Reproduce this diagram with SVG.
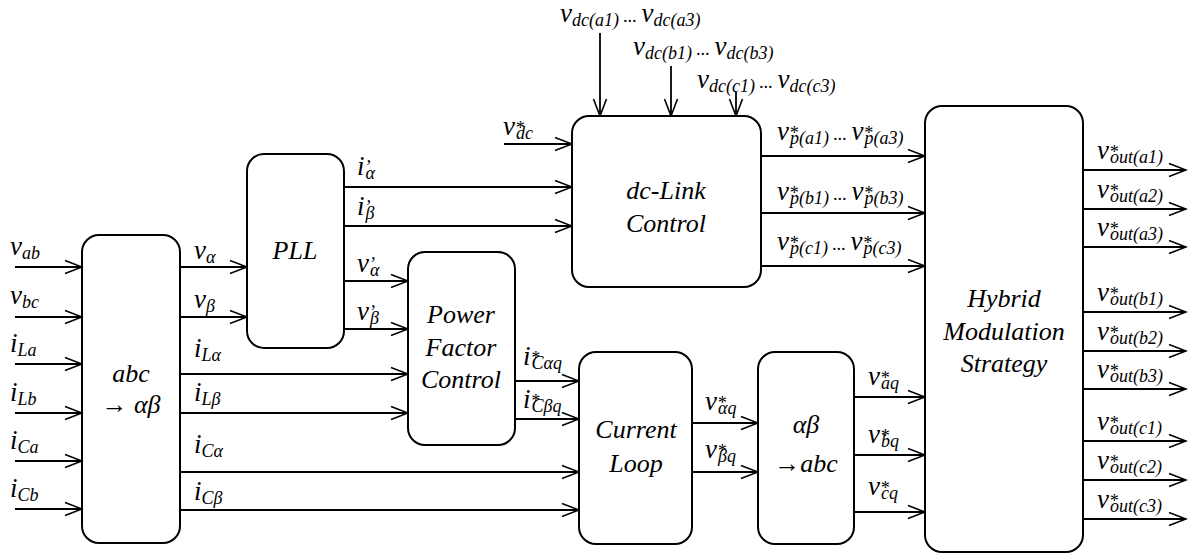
<svg xmlns="http://www.w3.org/2000/svg" width="1194" height="554" viewBox="0 0 1194 554" font-family="'Liberation Serif','Times New Roman',Tinos,'Noto Serif','DejaVu Serif','Nimbus Roman',FreeSerif,serif">
<style>
.bx{fill:#fff;stroke:#000;stroke-width:2}
.c{fill:none;stroke:#000;stroke-width:1.8;marker-end:url(#ah)}
.t{font-family:"Liberation Serif","Times New Roman",Tinos,"Noto Serif","DejaVu Serif","Nimbus Roman",FreeSerif,serif;font-style:italic;fill:#000}
.L{font-size:27px}
.s{font-size:18px}
.b{font-size:26px;text-anchor:middle}
</style>
<defs>
<marker id="ah" markerUnits="userSpaceOnUse" markerWidth="20" markerHeight="16" refX="18" refY="8" orient="auto">
<path d="M1,1.5 L18,8 L1,14.5" fill="none" stroke="#000" stroke-width="1.6"/>
</marker>
</defs>
<rect width="1194" height="554" fill="#fff"/>

<g id="connectors">
<line class="c" x1="15" y1="267" x2="82" y2="267"/>
<line class="c" x1="15" y1="317" x2="82" y2="317"/>
<line class="c" x1="15" y1="364" x2="82" y2="364"/>
<line class="c" x1="15" y1="413" x2="82" y2="413"/>
<line class="c" x1="15" y1="461" x2="82" y2="461"/>
<line class="c" x1="15" y1="509" x2="82" y2="509"/>
<line class="c" x1="180" y1="267" x2="247" y2="267"/>
<line class="c" x1="180" y1="317" x2="247" y2="317"/>
<line class="c" x1="180" y1="374" x2="408" y2="374"/>
<line class="c" x1="180" y1="413" x2="408" y2="413"/>
<line class="c" x1="180" y1="472" x2="579" y2="472"/>
<line class="c" x1="180" y1="510" x2="579" y2="510"/>
<line class="c" x1="344" y1="187" x2="572" y2="187"/>
<line class="c" x1="344" y1="226" x2="572" y2="226"/>
<line class="c" x1="344" y1="281" x2="408" y2="281"/>
<line class="c" x1="344" y1="329" x2="408" y2="329"/>
<line class="c" x1="504" y1="144" x2="572" y2="144"/>
<line class="c" x1="600" y1="33" x2="600" y2="116"/>
<line class="c" x1="671" y1="66" x2="671" y2="116"/>
<line class="c" x1="736" y1="92" x2="736" y2="116"/>
<line class="c" x1="761" y1="156" x2="925" y2="156"/>
<line class="c" x1="761" y1="213" x2="925" y2="213"/>
<line class="c" x1="761" y1="266" x2="925" y2="266"/>
<line class="c" x1="515" y1="381" x2="579" y2="381"/>
<line class="c" x1="515" y1="419" x2="579" y2="419"/>
<line class="c" x1="692" y1="423" x2="758" y2="423"/>
<line class="c" x1="692" y1="472" x2="758" y2="472"/>
<line class="c" x1="854" y1="397" x2="925" y2="397"/>
<line class="c" x1="854" y1="455" x2="925" y2="455"/>
<line class="c" x1="854" y1="512" x2="925" y2="512"/>
<line class="c" x1="1083" y1="170" x2="1186" y2="170"/>
<line class="c" x1="1083" y1="209" x2="1186" y2="209"/>
<line class="c" x1="1083" y1="247" x2="1186" y2="247"/>
<line class="c" x1="1083" y1="312" x2="1186" y2="312"/>
<line class="c" x1="1083" y1="351" x2="1186" y2="351"/>
<line class="c" x1="1083" y1="389" x2="1186" y2="389"/>
<line class="c" x1="1083" y1="441" x2="1186" y2="441"/>
<line class="c" x1="1083" y1="480" x2="1186" y2="480"/>
<line class="c" x1="1083" y1="519" x2="1186" y2="519"/>
</g>

<g id="abc2ab">
<rect class="bx" x="82" y="235" width="98" height="308" rx="17"/>
<text class="t b" x="131" y="382">abc</text>
<text class="t b" x="131" y="413">→ αβ</text>
</g>
<g id="pll">
<rect class="bx" x="247" y="154" width="97" height="194" rx="17"/>
<text class="t b" x="295" y="259">PLL</text>
</g>
<g id="pfc">
<rect class="bx" x="408" y="252" width="107" height="193" rx="17"/>
<text class="t b" x="461" y="323">Power</text>
<text class="t b" x="461" y="356">Factor</text>
<text class="t b" x="461" y="388">Control</text>
</g>
<g id="dclink">
<rect class="bx" x="572" y="116" width="189" height="171" rx="17"/>
<text class="t b" x="666" y="199">dc-Link</text>
<text class="t b" x="666" y="232">Control</text>
</g>
<g id="current">
<rect class="bx" x="579" y="352" width="113" height="192" rx="17"/>
<text class="t b" x="636" y="438">Current</text>
<text class="t b" x="636" y="472">Loop</text>
</g>
<g id="ab2abc">
<rect class="bx" x="758" y="352" width="96" height="192" rx="17"/>
<text class="t b" x="806" y="433">αβ</text>
<text class="t b" x="806" y="472">→abc</text>
</g>
<g id="hybrid">
<rect class="bx" x="925" y="106" width="158" height="446" rx="17"/>
<text class="t b" x="1004" y="307">Hybrid</text>
<text class="t b" x="1004" y="340">Modulation</text>
<text class="t b" x="1004" y="372">Strategy</text>
</g>

<g id="labels" class="t">
<text class="t L" x="10" y="255">v<tspan class="s" dy="4">ab</tspan></text>
<text class="t L" x="10" y="304">v<tspan class="s" dy="4">bc</tspan></text>
<text class="t L" x="10" y="352">i<tspan class="s" dy="4">La</tspan></text>
<text class="t L" x="10" y="401">i<tspan class="s" dy="4">Lb</tspan></text>
<text class="t L" x="10" y="449">i<tspan class="s" dy="4">Ca</tspan></text>
<text class="t L" x="10" y="497">i<tspan class="s" dy="4">Cb</tspan></text>
<text class="t L" x="194" y="259">v<tspan class="s" dy="4">α</tspan></text>
<text class="t L" x="194" y="308">v<tspan class="s" dy="4">β</tspan></text>
<text class="t L" x="194" y="357">i<tspan class="s" dy="4">Lα</tspan></text>
<text class="t L" x="194" y="401">i<tspan class="s" dy="4">Lβ</tspan></text>
<text class="t L" x="194" y="453">i<tspan class="s" dy="4">Cα</tspan></text>
<text class="t L" x="194" y="500">i<tspan class="s" dy="4">Cβ</tspan></text>
<text class="t L" x="357" y="175">i<tspan class="s" dy="-2">’</tspan><tspan class="s" dx="-5" dy="6">α</tspan></text>
<text class="t L" x="357" y="215">i<tspan class="s" dy="-2">’</tspan><tspan class="s" dx="-5" dy="6">β</tspan></text>
<text class="t L" x="357" y="272">v<tspan class="s" dy="-2">’</tspan><tspan class="s" dx="-5" dy="6">α</tspan></text>
<text class="t L" x="357" y="320">v<tspan class="s" dy="-2">’</tspan><tspan class="s" dx="-5" dy="6">β</tspan></text>
<text class="t L" x="503" y="135">v<tspan class="s" dy="-1">*</tspan><tspan class="s" dx="-8" dy="5">dc</tspan></text>
<text class="t L" x="560" y="22">v<tspan class="s" dy="4">dc(a1)</tspan><tspan class="s" dy="-4"> ... </tspan><tspan dy="0">v</tspan><tspan class="s" dy="4">dc(a3)</tspan></text>
<text class="t L" x="633" y="55">v<tspan class="s" dy="4">dc(b1)</tspan><tspan class="s" dy="-4"> ... </tspan><tspan dy="0">v</tspan><tspan class="s" dy="4">dc(b3)</tspan></text>
<text class="t L" x="697" y="88">v<tspan class="s" dy="4">dc(c1)</tspan><tspan class="s" dy="-4"> ... </tspan><tspan dy="0">v</tspan><tspan class="s" dy="4">dc(c3)</tspan></text>
<text class="t L" x="777" y="140">v<tspan class="s" dy="-1">*</tspan><tspan class="s" dx="-8" dy="5">p(a1)</tspan><tspan class="s" dy="-4"> ... </tspan><tspan dy="0">v</tspan><tspan class="s" dy="-1">*</tspan><tspan class="s" dx="-8" dy="5">p(a3)</tspan></text>
<text class="t L" x="777" y="200">v<tspan class="s" dy="-1">*</tspan><tspan class="s" dx="-8" dy="5">p(b1)</tspan><tspan class="s" dy="-4"> ... </tspan><tspan dy="0">v</tspan><tspan class="s" dy="-1">*</tspan><tspan class="s" dx="-8" dy="5">p(b3)</tspan></text>
<text class="t L" x="777" y="250">v<tspan class="s" dy="-1">*</tspan><tspan class="s" dx="-8" dy="5">p(c1)</tspan><tspan class="s" dy="-4"> ... </tspan><tspan dy="0">v</tspan><tspan class="s" dy="-1">*</tspan><tspan class="s" dx="-8" dy="5">p(c3)</tspan></text>
<text class="t L" x="523" y="365">i<tspan class="s" dy="-1">*</tspan><tspan class="s" dx="-8" dy="5">Cαq</tspan></text>
<text class="t L" x="523" y="408">i<tspan class="s" dy="-1">*</tspan><tspan class="s" dx="-8" dy="5">Cβq</tspan></text>
<text class="t L" x="705" y="410">v<tspan class="s" dy="-1">*</tspan><tspan class="s" dx="-8" dy="5">αq</tspan></text>
<text class="t L" x="705" y="458">v<tspan class="s" dy="-1">*</tspan><tspan class="s" dx="-8" dy="5">βq</tspan></text>
<text class="t L" x="868" y="385">v<tspan class="s" dy="-1">*</tspan><tspan class="s" dx="-8" dy="5">aq</tspan></text>
<text class="t L" x="868" y="443">v<tspan class="s" dy="-1">*</tspan><tspan class="s" dx="-8" dy="5">bq</tspan></text>
<text class="t L" x="868" y="495">v<tspan class="s" dy="-1">*</tspan><tspan class="s" dx="-8" dy="5">cq</tspan></text>
<text class="t L" x="1097" y="159">v<tspan class="s" dy="-1">*</tspan><tspan class="s" dx="-8" dy="5">out(a1)</tspan></text>
<text class="t L" x="1097" y="198">v<tspan class="s" dy="-1">*</tspan><tspan class="s" dx="-8" dy="5">out(a2)</tspan></text>
<text class="t L" x="1097" y="236">v<tspan class="s" dy="-1">*</tspan><tspan class="s" dx="-8" dy="5">out(a3)</tspan></text>
<text class="t L" x="1097" y="301">v<tspan class="s" dy="-1">*</tspan><tspan class="s" dx="-8" dy="5">out(b1)</tspan></text>
<text class="t L" x="1097" y="340">v<tspan class="s" dy="-1">*</tspan><tspan class="s" dx="-8" dy="5">out(b2)</tspan></text>
<text class="t L" x="1097" y="378">v<tspan class="s" dy="-1">*</tspan><tspan class="s" dx="-8" dy="5">out(b3)</tspan></text>
<text class="t L" x="1097" y="430">v<tspan class="s" dy="-1">*</tspan><tspan class="s" dx="-8" dy="5">out(c1)</tspan></text>
<text class="t L" x="1097" y="469">v<tspan class="s" dy="-1">*</tspan><tspan class="s" dx="-8" dy="5">out(c2)</tspan></text>
<text class="t L" x="1097" y="508">v<tspan class="s" dy="-1">*</tspan><tspan class="s" dx="-8" dy="5">out(c3)</tspan></text>
</g>
</svg>
